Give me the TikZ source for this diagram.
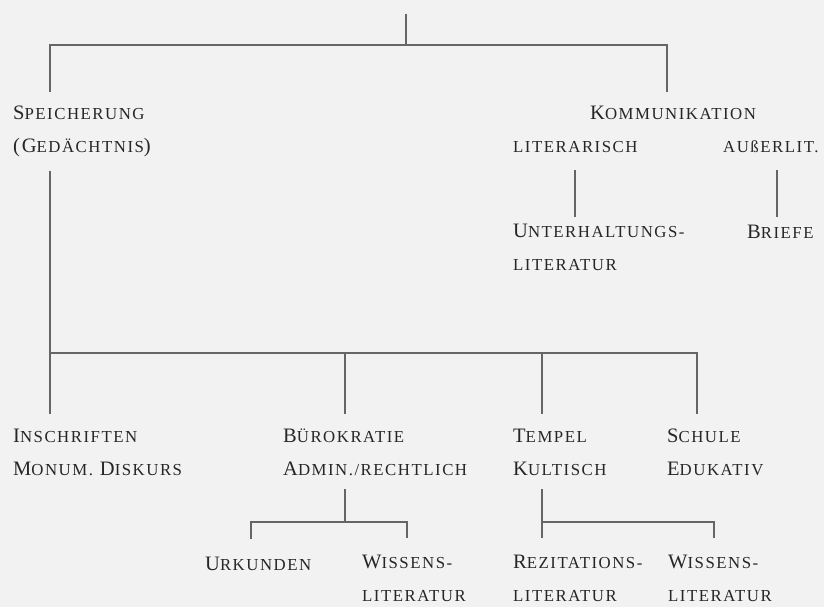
\documentclass[tikz,border=0pt]{standalone}
\usepackage{fontspec}
\setmainfont{Liberation Serif}[LetterSpace=9]
\usetikzlibrary{positioning}
% small capitals, faked with a smaller size
\newcommand{\sm}[1]{{\fontsize{16.8pt}{32.5pt}\selectfont #1}}

\begin{document}
\begin{tikzpicture}[x=1pt,y=-1pt,
    branch/.style={draw=black!60,line width=1.5pt},
    lbl/.style={anchor=base west,inner sep=0pt,align=left,text=black!85,
      font=\fontsize{20.5pt}{32.5pt}\selectfont}]
  \fill[black!5] (0,0) rectangle (824,607);
  \useasboundingbox (0,0) rectangle (824,607);

  % multi-line nodes sit on the baseline of their last line
  \node[lbl] (speich) at (13,152)  {S\sm{PEICHERUNG}\\(G\sm{EDÄCHTNIS})};
  \node[lbl] (komm)   at (590,120) {K\sm{OMMUNIKATION}};
  \node[lbl] (lit)    at (513,153) {\sm{LITERARISCH}};
  \node[lbl] (ausser) at (723,153) {\sm{AUßERLIT.}};
  \node[lbl] (unter)  at (513,270) {U\sm{NTERHALTUNGS-}\\\sm{LITERATUR}};
  \node[lbl] (briefe) at (747,238) {B\sm{RIEFE}};
  \node[lbl] (inschr) at (13,475)  {I\sm{NSCHRIFTEN}\\M\sm{ONUM.} D\sm{ISKURS}};
  \node[lbl] (buero)  at (283,475) {B\sm{ÜROKRATIE}\\A\sm{DMIN./RECHTLICH}};
  \node[lbl] (tempel) at (513,475) {T\sm{EMPEL}\\K\sm{ULTISCH}};
  \node[lbl] (schule) at (667,475) {S\sm{CHULE}\\E\sm{DUKATIV}};
  \node[lbl] (urk)    at (205,570) {U\sm{RKUNDEN}};
  \node[lbl] (wissA)  at (362,601) {W\sm{ISSENS-}\\\sm{LITERATUR}};
  \node[lbl] (rezit)  at (513,601) {R\sm{EZITATIONS-}\\\sm{LITERATUR}};
  \node[lbl] (wissB)  at (668,601) {W\sm{ISSENS-}\\\sm{LITERATUR}};

  \coordinate (root)      at (406,14);
  \coordinate (rootfork)  at (406,45);
  \coordinate (storefork) at (50,353);
  \coordinate (burofork)  at (345,522);
  \coordinate (tempfork)  at (542,522);

  % top level
  \draw[branch] (root) -- (rootfork);
  \draw[branch] ([xshift=37pt,yshift=14pt]speich.north west) |- (rootfork)
    -| ([xshift=77pt,yshift=14pt]komm.north west);
  \draw[branch] ([xshift=62pt,yshift=-17pt]lit.south west)
    -- ([xshift=62pt,yshift=7pt]unter.north west);
  \draw[branch] ([xshift=54pt,yshift=-17pt]ausser.south west)
    -- ([xshift=30pt,yshift=7pt]briefe.north west);

  % storage
  \draw[branch] ([xshift=37pt,yshift=-14pt]speich.south west)
    -- ([xshift=37pt,yshift=15pt]inschr.north west);
  \draw[branch] (storefork) -| ([xshift=62pt,yshift=15pt]buero.north west);
  \draw[branch] (storefork) -| ([xshift=29pt,yshift=15pt]tempel.north west);
  \draw[branch] (storefork) -| ([xshift=30pt,yshift=15pt]schule.north west);

  % bureaucracy and temple
  \draw[branch] ([xshift=62pt,yshift=-14pt]buero.south west) -- (burofork);
  \draw[branch] ([xshift=46pt,yshift=17pt]urk.north west) |- (burofork)
    -| ([xshift=45pt,yshift=17pt]wissA.north west);
  \draw[branch] ([xshift=29pt,yshift=-14pt]tempel.south west)
    -- ([xshift=29pt,yshift=17pt]rezit.north west);
  \draw[branch] (tempfork) -| ([xshift=46pt,yshift=17pt]wissB.north west);
\end{tikzpicture}
\end{document}
